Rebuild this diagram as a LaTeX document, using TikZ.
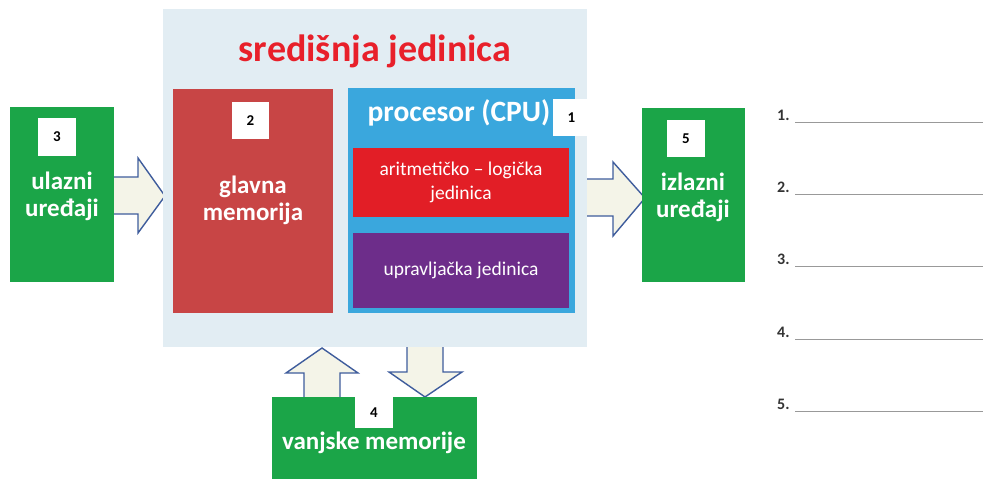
\documentclass[tikz,border=0pt]{standalone}
\usepackage{fontspec}
\setmainfont{Carlito}
\definecolor{lbg}{HTML}{E2EDF3}
\definecolor{memred}{HTML}{C84545}
\definecolor{grn}{HTML}{1BA548}
\definecolor{cpublue}{HTML}{3AA7DD}
\definecolor{alured}{HTML}{E21E26}
\definecolor{purp}{HTML}{6D2D8A}
\definecolor{titred}{HTML}{E8202A}
\definecolor{arrfill}{HTML}{F4F4E8}
\definecolor{arrline}{HTML}{3E5C9C}
\definecolor{numgray}{HTML}{333333}
\begin{document}
\begin{tikzpicture}[x=1pt,y=-1pt,
  blk/.style={anchor=north west,inner sep=0pt,outer sep=0pt,draw=none},
  numbox/.style={blk,fill=white,font=\bfseries\fontsize{15}{15}\selectfont,text=black,align=center},
  wtxt/.style={text=white,font=\bfseries\fontsize{25}{27}\selectfont,align=center,inner sep=0pt},
  blockarrow/.style={fill=arrfill,draw=arrline,line width=1.4pt,line join=miter},
  listnum/.style={anchor=west,inner sep=0pt,text=numgray,font=\bfseries\fontsize{16}{16}\selectfont},
  blank/.style={draw=gray!80,line width=0.8pt}]
\useasboundingbox (0,0) rectangle (983,479);
% block arrows
\draw[blockarrow] (112,177) -- (138,177) -- (138,158) -- (165,196) -- (138,233) -- (138,214) -- (112,214) -- cycle;
\draw[blockarrow] (585,179) -- (613,179) -- (613,162) -- (645,198) -- (613,236) -- (613,216) -- (585,216) -- cycle;
\draw[blockarrow] (304,400) -- (304,373) -- (286,373) -- (322,348) -- (358,373) -- (340,373) -- (340,400) -- cycle;
\draw[blockarrow] (407,343) -- (407,372) -- (389,372) -- (425,397) -- (462,372) -- (443,372) -- (443,343) -- cycle;
% central unit background
\node[blk,fill=lbg,minimum width=424pt,minimum height=338pt] (lb) at (163,9) {};
% title
\node[text=titred,font=\bfseries\fontsize{38}{40}\selectfont,inner sep=0pt] (title) at (375,51) {središnja jedinica};
% main memory
\node[blk,fill=memred,minimum width=160pt,minimum height=224pt] (mem) at (173,89) {};
\node[numbox,minimum width=37pt,minimum height=37pt] (n2) at (232,102) {2};
\node[wtxt] (memtxt) at (253,200) {glavna\\memorija};
% processor
\node[blk,fill=cpublue,minimum width=227pt,minimum height=225pt] (cpu) at (348,88) {};
\node[text=white,font=\fontsize{29.5}{31}\selectfont\bfseries,inner sep=0pt] (cputxt) at (459,113) {procesor (CPU)};
\node[numbox,minimum width=37pt,minimum height=37pt] (n1) at (553,99) {1};
\node[blk,fill=alured,minimum width=216pt,minimum height=69pt] (alu) at (353,148) {};
\node[text=white,font=\fontsize{19.5}{24}\selectfont,align=center,inner sep=0pt] (alutxt) at (alu.center) {aritmetičko – logička\\jedinica};
\node[blk,fill=purp,minimum width=216pt,minimum height=75pt] (cu) at (353,233) {};
\node[text=white,font=\fontsize{19.5}{22}\selectfont,inner sep=0pt] (cutxt) at (cu.center) {upravljačka jedinica};
% input devices
\node[blk,fill=grn,minimum width=104pt,minimum height=175pt] (in) at (10,107) {};
\node[numbox,minimum width=38pt,minimum height=38pt] (n3) at (38,118) {3};
\node[wtxt] (intxt) at (62,196) {ulazni\\uređaji};
% output devices
\node[blk,fill=grn,minimum width=103pt,minimum height=174pt] (out) at (642,108) {};
\node[numbox,minimum width=38pt,minimum height=37pt] (n5) at (667,120) {5};
\node[wtxt] (outtxt) at (693,197) {izlazni\\uređaji};
% external memory
\node[blk,fill=grn,minimum width=205pt,minimum height=85pt] (ext) at (272,397) {};
\node[numbox,minimum width=38pt,minimum height=31pt] (n4) at (355,397) {4};
\node[wtxt] (exttxt) at (374,443) {vanjske memorije};
% answer list
\foreach \i/\yy in {1/115,2/187,3/259,4/332,5/404}{
  \node[listnum] (l\i) at (777,\yy) {\i.};
  \coordinate (s\i) at (795,\yy+7);
  \coordinate (e\i) at (983,\yy+7);
  \draw[blank] (s\i) -- (e\i);
}
\end{tikzpicture}
\end{document}
